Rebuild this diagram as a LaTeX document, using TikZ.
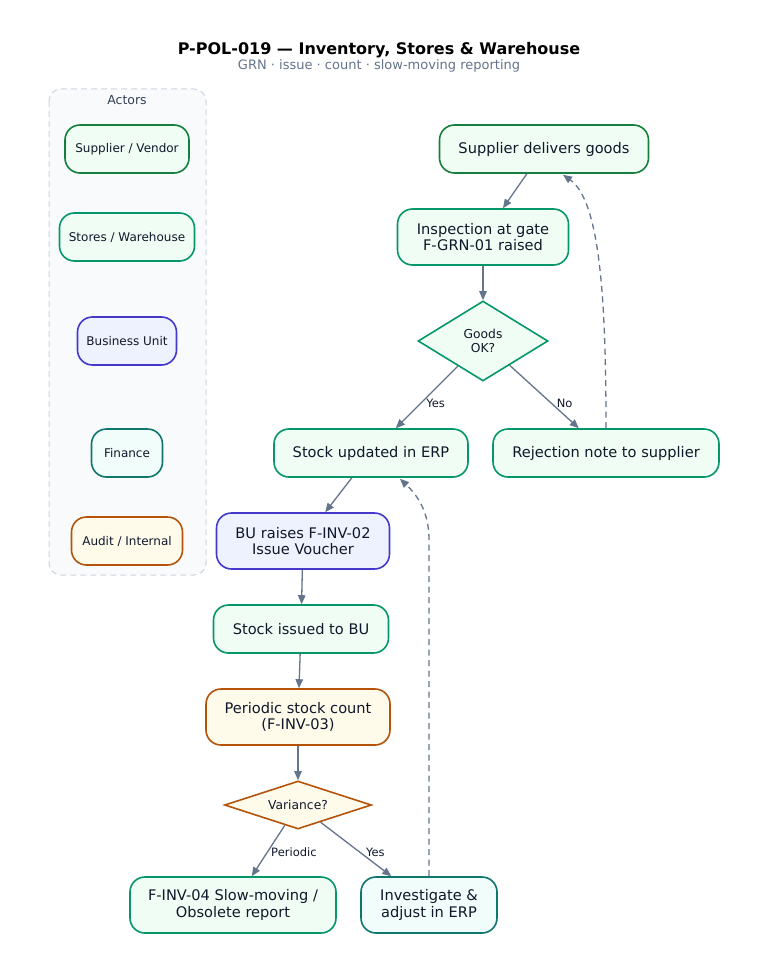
\documentclass[tikz,border=0pt]{standalone}
\usepackage{fontspec}
\setmainfont{DejaVu Sans}
\usetikzlibrary{shapes.geometric,arrows.meta}
\definecolor{ink}{HTML}{0F172A}
\definecolor{edgec}{HTML}{64748B}
\definecolor{subc}{HTML}{64748B}
\definecolor{actc}{HTML}{334155}
\definecolor{laneb}{HTML}{CBD5E1}
\definecolor{lanef}{HTML}{F8FAFC}
\definecolor{gdB}{HTML}{15803D}\definecolor{gdF}{HTML}{F0FDF4}
\definecolor{emB}{HTML}{059669}\definecolor{emF}{HTML}{F0FDF4}
\definecolor{inB}{HTML}{4338CA}\definecolor{inF}{HTML}{EEF2FF}
\definecolor{tlB}{HTML}{0F766E}\definecolor{tlF}{HTML}{F0FDFA}
\definecolor{amB}{HTML}{B45309}\definecolor{amF}{HTML}{FFFBEB}
\tikzset{
  box/.style={draw, rounded corners=15pt, line width=1.6pt, minimum height=48pt, align=center, text=ink, inner sep=2pt},
  proc/.style={box, font=\fontsize{14.6}{16.5}\selectfont},
  actor/.style={box, font=\fontsize{12}{14}\selectfont},
  dec/.style={draw, diamond, line width=1.6pt, inner sep=0pt, align=center, text=ink, font=\fontsize{12.3}{14.5}\selectfont},
  gd/.style={draw=gdB, fill=gdF},
  em/.style={draw=emB, fill=emF},
  ind/.style={draw=inB, fill=inF},
  tl/.style={draw=tlB, fill=tlF},
  am/.style={draw=amB, fill=amF},
  flow/.style={draw=edgec, line width=1.3pt, -{Triangle[length=9pt,width=7.5pt]}},
  back/.style={flow, dash pattern=on 6pt off 4.5pt},
  elab/.style={font=\fontsize{11.5}{13}\selectfont, text=ink, inner sep=1pt},
}
\begin{document}
\begin{tikzpicture}[x=1pt,y=-1pt]
\useasboundingbox[fill=white] (0,0) rectangle (758,971);
% title
\node[font=\bfseries\fontsize{16}{18}\selectfont, text=black] (title) at (379,50) {P-POL-019 — Inventory, Stores \& Warehouse};
\node[font=\fontsize{13}{15}\selectfont, text=subc] (subtitle) at (379,65.5) {GRN · issue · count · slow-moving reporting};
% actors lane
\draw[draw=laneb, fill=lanef, line width=1pt, rounded corners=12pt, dash pattern=on 6pt off 4pt] (49,89) rectangle (206,575);
\node[font=\fontsize{12.5}{14}\selectfont, text=actc] (actors) at (127,100.5) {Actors};
\node[actor, gd, minimum width=124pt] (a1) at (127,149) {Supplier / Vendor};
\node[actor, em, minimum width=135pt] (a2) at (127,237) {Stores / Warehouse};
\node[actor, ind, minimum width=99pt] (a3) at (127,341) {Business Unit};
\node[actor, tl, minimum width=71pt] (a4) at (127,453) {Finance};
\node[actor, am, minimum width=111pt] (a5) at (127,541) {Audit / Internal};
% flow nodes
\node[proc, gd, minimum width=209pt] (sup) at (544,149) {Supplier delivers goods};
\node[proc, em, minimum width=171pt, minimum height=56pt] (insp) at (483,237) {Inspection at gate\\F-GRN-01 raised};
\node[dec, em, minimum width=130pt, minimum height=80pt, aspect=1.6] (ok) at (483,341) {Goods\\OK?};
\node[proc, em, minimum width=194pt] (upd) at (371,453) {Stock updated in ERP};
\node[proc, em, minimum width=226pt] (rej) at (606,453) {Rejection note to supplier};
\node[proc, ind, minimum width=173pt, minimum height=56pt] (bu) at (303,541) {BU raises F-INV-02\\Issue Voucher};
\node[proc, em, minimum width=175pt] (iss) at (301,629) {Stock issued to BU};
\node[proc, am, minimum width=184pt, minimum height=56pt] (cnt) at (298,717) {Periodic stock count\\(F-INV-03)};
\node[dec, am, minimum width=147pt, minimum height=48pt, aspect=3] (var) at (298,805) {Variance?};
\node[proc, em, minimum width=206pt, minimum height=56pt] (rep) at (233,905) {F-INV-04 Slow-moving /\\Obsolete report};
\node[proc, tl, minimum width=136pt, minimum height=56pt] (inv) at (429,905) {Investigate \&\\adjust in ERP};
% connectors
\draw[flow] (sup) -- (insp);
\draw[flow] (insp) -- (ok);
\draw[flow] (ok) -- node[elab, pos=0.6, anchor=west, xshift=4pt] {Yes} (upd);
\draw[flow] (ok) -- node[elab, pos=0.6, anchor=west, xshift=4pt] {No} (rej);
\draw[back] (rej.north) .. controls ([yshift=129pt]rej.north) and ([xshift=56pt,yshift=-27pt]sup.south) .. ([xshift=19pt,yshift=-1pt]sup.south);
\draw[flow] (upd) -- (bu);
\draw[flow] (bu) -- (iss);
\draw[flow] (iss) -- (cnt);
\draw[flow] (cnt) -- (var);
\draw[flow] (var) -- node[elab, pos=0.52, anchor=west, xshift=2pt] {Periodic} (rep);
\draw[flow] (var) -- node[elab, pos=0.55, anchor=west, xshift=5pt] {Yes} (inv);
\coordinate (bendA) at (429,540);
\draw[back] (inv.north) -- (bendA) .. controls (429,512) and (418,496) .. ([xshift=29pt,yshift=-1pt]upd.south);
\end{tikzpicture}
\end{document}
